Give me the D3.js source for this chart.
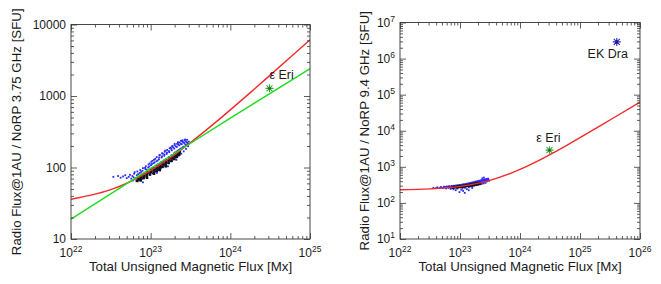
<!DOCTYPE html>
<html><head><meta charset="utf-8">
<script src="https://cdn.jsdelivr.net/npm/d3@7"></script>
<style>
body{margin:0;background:#fff}
svg{display:block}
text{font-family:"Liberation Sans",Arial,Helvetica,sans-serif;fill:#1a1a1a}
</style>
</head><body><svg id="c" width="661" height="284"></svg>
<script>
// ---------- data ----------
const leftXTicks = [1e22, 1e23, 1e24, 1e25];
const leftXLabels = ["22", "23", "24", "25"];
const leftYTicks = [10, 100, 1000, 10000];
const leftYLabels = ["10", "100", "1000", "10000"];
const rightXTicks = [1e22, 1e23, 1e24, 1e25, 1e26];
const rightXLabels = ["22", "23", "24", "25", "26"];
const rightYTicks = [1e1, 1e2, 1e3, 1e4, 1e5, 1e6, 1e7];
const rightYLabels = ["1", "2", "3", "4", "5", "6", "7"];

// fit curves [Mx, SFU]
const leftRed = [[1e22,36],[1.78e22,41],[3.16e22,49],[5.62e22,64],[1e23,91],[1.78e23,138],[3.16e23,223],[5.62e23,373],[1e24,640],[1.78e24,1115],[3.16e24,1960],[5.62e24,3460],[1e25,6130]];
const leftGreen = [[1e22,19],[1e23,97],[1e24,490],[1e25,2415]];
const rightRed = [[1e22,231],[3.16e22,245],[1e23,287],[3.16e23,421],[1e24,845],[1.78e24,1327],[3.16e24,2186],[5.62e24,3711],[1e25,6425],[3.16e25,19830],[1e26,62200]];

// observations (blue: all points, black: densest core)
const leftBlue = [[3.4e22,74],[3.9e22,76],[4.2e22,72],[4.5e22,75],[4.8e22,78],[5.0e22,71],[5.3e22,74],[5.5e22,79],[5.7e22,70],[5.9e22,76],
[6.0e22,66],[6.1e22,73],[6.2e22,82],[6.3e22,86],[6.5e22,71],[6.6e22,65],[6.7e22,78],[6.8e22,88],
[7.1e22,67],[7.2e22,74],[7.3e22,84],[7.4e22,92],[7.7e22,69],[7.8e22,80],[7.9e22,90],[8.0e22,98],
[8.3e22,71],[8.4e22,84],[8.6e22,95],[8.7e22,104],[9.0e22,74],[9.1e22,88],[9.3e22,100],[9.4e22,110],
[9.8e22,79],[9.9e22,94],[10.1e22,108],[10.2e22,120],[10.6e22,83],[10.7e22,99],[10.9e22,115],[11.0e22,128],
[11.5e22,87],[11.6e22,106],[11.8e22,122],[11.9e22,140],[12.4e22,92],[12.5e22,112],[12.7e22,130],[12.9e22,148],
[13.4e22,97],[13.5e22,118],[13.7e22,138],[13.9e22,158],[14.4e22,102],[14.6e22,125],[14.8e22,146],[15.0e22,166],
[15.5e22,108],[15.7e22,132],[15.9e22,155],[16.1e22,176],[16.7e22,115],[16.9e22,140],[17.1e22,164],[17.3e22,186],
[18.0e22,122],[18.2e22,148],[18.4e22,174],[18.6e22,196],[19.4e22,130],[19.6e22,157],[19.8e22,184],[20.0e22,206],
[20.9e22,138],[21.1e22,166],[21.3e22,194],[21.5e22,214],[22.5e22,146],[22.7e22,176],[22.9e22,204],[23.1e22,224],
[24.2e22,156],[24.4e22,186],[24.6e22,212],[24.8e22,232],[26.0e22,168],[26.2e22,196],[26.4e22,220],[26.6e22,240],
[27.8e22,182],[28.1e22,206],[28.4e22,226],[28.6e22,244],[29.5e22,198],[29.8e22,214],[30.1e22,230],
[8.0e22,62],[12.0e22,84],[16.5e22,104],[21.0e22,128],[25.0e22,240],[27.0e22,246],[20.0e22,215],[10.5e22,124],[13.0e22,150],[15.2e22,172],[18.8e22,200],[22.0e22,226],
[7.0e22,81],[7.6e22,87],[8.1e22,77],[8.9e22,93],[9.6e22,103],[9.5e22,86],[10.4e22,112],[10.3e22,96],[11.2e22,118],[11.3e22,93],[12.2e22,125],[12.0e22,101],[12.8e22,138],[13.2e22,109],[13.9e22,143],[14.1e22,113],[14.9e22,152],[15.3e22,121],[16.0e22,162],[16.4e22,128],[17.0e22,170],[17.6e22,136],[18.1e22,182],[18.9e22,150],[19.2e22,190],[20.3e22,162],[20.6e22,198],[21.8e22,172],[22.2e22,208],[23.5e22,182],[23.8e22,214],[25.3e22,192],[25.6e22,226],[27.2e22,210],[27.5e22,232],[29.0e22,220],[8.5e22,99],[9.7e22,114],[11.4e22,132],[14.2e22,156],[17.8e22,190],[21.9e22,219],[24.0e22,236]];
const leftBlack = [[6.8e22,65],[6.9e22,69],[7.0e22,72],[7.4e22,68],[7.5e22,72],[7.6e22,76],[7.5e22,66],
[8.1e22,71],[8.2e22,76],[8.3e22,80],[8.9e22,75],[9.0e22,80],[9.1e22,85],[9.0e22,72],
[9.8e22,80],[10.0e22,86],[10.2e22,91],[10.9e22,85],[11.0e22,91],[11.2e22,97],[11.0e22,82],
[11.9e22,90],[12.1e22,97],[12.2e22,103],[12.9e22,95],[13.1e22,102],[13.2e22,109],[13.0e22,92],
[14.0e22,102],[14.2e22,110],[14.4e22,117],[15.3e22,108],[15.5e22,116],[15.7e22,124],[15.5e22,104],
[16.8e22,116],[17.0e22,125],[17.2e22,134],[18.3e22,124],[18.5e22,134],[18.7e22,143],
[19.8e22,132],[20.0e22,142],[20.2e22,152],[21.3e22,141],[21.5e22,151],[21.7e22,161],[22.8e22,151],[23.0e22,160],[23.2e22,168]];
const rightBlue = [[3.6e22,262],[4.0e22,258],[4.2e22,270],[4.6e22,262],[4.8e22,276],[5.2e22,258],[5.4e22,282],[5.6e22,268],[5.9e22,252],[6.0e22,286],[6.2e22,272],[6.5e22,260],[6.6e22,292],[6.8e22,276],[7.0e22,245],[7.2e22,296],[7.3e22,280],[7.5e22,262],[7.8e22,238],[7.9e22,300],[8.0e22,284],[8.2e22,268],[8.5e22,225],[8.6e22,305],[8.7e22,288],[8.9e22,272],[9.1e22,250],[9.3e22,310],[9.4e22,292],[9.6e22,276],[9.8e22,200],[10.0e22,316],[10.1e22,296],[10.3e22,280],[10.5e22,232],[10.8e22,322],[10.9e22,302],[11.1e22,284],[11.3e22,215],[11.6e22,330],[11.7e22,308],[11.9e22,290],[12.1e22,262],[12.5e22,338],[12.6e22,314],[12.8e22,296],[13.0e22,240],[13.4e22,346],[13.6e22,320],[13.8e22,302],[14.0e22,270],[14.4e22,356],[14.6e22,328],[14.8e22,308],[15.0e22,285],[15.5e22,366],[15.7e22,336],[15.9e22,316],[16.1e22,292],[16.7e22,378],[16.9e22,346],[17.1e22,324],[17.3e22,300],[18.0e22,390],[18.2e22,356],[18.4e22,332],[18.6e22,310],[19.4e22,402],[19.6e22,366],[19.8e22,342],[20.0e22,318],[20.9e22,414],[21.1e22,378],[21.3e22,352],[21.5e22,328],[22.5e22,428],[22.7e22,390],[22.9e22,362],[23.1e22,338],[24.2e22,440],[24.4e22,402],[24.6e22,372],[24.8e22,348],[26.0e22,452],[26.2e22,414],[26.4e22,384],[26.6e22,360],[27.8e22,462],[28.1e22,424],[28.4e22,396],[29.5e22,470],[29.8e22,436],[30.5e22,410],[12.0e22,190],[14.0e22,225],[11.0e22,250],[16.0e22,260],[25.0e22,505],[23.5e22,480],
[7.4e22,290],[8.4e22,296],[9.0e22,300],[9.9e22,306],[10.6e22,312],[11.4e22,318],[12.3e22,325],[13.1e22,333],[14.1e22,340],[15.2e22,350],[16.4e22,360],[17.6e22,368],[18.8e22,378],[20.2e22,390],[21.8e22,400],[23.4e22,414],[25.2e22,428],[27.0e22,440],[28.8e22,452],[6.4e22,282],[5.6e22,276],[4.9e22,268]];
const rightBlack = [[7.6e22,265],[7.8e22,272],[8.0e22,278],[8.8e22,270],[9.0e22,278],[9.2e22,285],[9.8e22,276],[10.0e22,284],[10.2e22,291],[11.0e22,282],[11.2e22,290],[11.4e22,298],[12.3e22,290],[12.5e22,298],[12.7e22,306],[13.8e22,298],[14.0e22,307],[14.2e22,316],[15.3e22,306],[15.5e22,316],[15.7e22,326],[16.8e22,315],[17.0e22,325],[17.2e22,335],[18.3e22,324],[18.5e22,334],[18.7e22,344],[19.8e22,332],[20.0e22,343],[20.2e22,353],[21.3e22,342],[21.5e22,352]];

// individual stars [Mx, SFU]
const leftStars = [{name:"ε Eri", x:3.1e24, y:1280, color:"#3aa53a"}];
const rightStars = [{name:"ε Eri", x:3.1e24, y:2900, color:"#3aa53a"},
                    {name:"EK Dra", x:4.1e25, y:2.9e6, color:"#2b2bc0"}];

const leftXTitle = "Total Unsigned Magnetic Flux [Mx]";
const leftYTitle = "Radio Flux@1AU / NoRP 3.75 GHz [SFU]";
const rightXTitle = "Total Unsigned Magnetic Flux [Mx]";
const rightYTitle = "Radio Flux@1AU / NoRP 9.4 GHz [SFU]";

// ---------- drawing ----------
const svg = d3.select("#c");
svg.append("rect").attr("width",661).attr("height",284).attr("fill","#fff");

function minorsFor(domain){
  const out=[];
  const a=Math.round(Math.log10(domain[0])), b=Math.round(Math.log10(domain[1]));
  for(let e=a;e<b;e++) for(let k=2;k<=9;k++) out.push(k*Math.pow(10,e));
  return out;
}

function drawPanel(cfg, id){
  const g = svg.append("g");
  const x = d3.scaleLog().domain(cfg.xDomain).range([cfg.left, cfg.right]);
  const y = d3.scaleLog().domain(cfg.yDomain).range([cfg.bottom, cfg.top]);
  const xMin = minorsFor(cfg.xDomain), yMin = minorsFor(cfg.yDomain);

  g.append("clipPath").attr("id","clip"+id).append("rect")
    .attr("x",cfg.left).attr("y",cfg.top).attr("width",cfg.right-cfg.left).attr("height",cfg.bottom-cfg.top);
  const plot = g.append("g").attr("clip-path",`url(#clip${id})`);

  // scatter
  plot.selectAll("rect.b").data(cfg.blue).join("rect").attr("class","b")
    .attr("x",d=>x(d[0])-0.9).attr("y",d=>y(d[1])-0.9).attr("width",1.8).attr("height",1.8).attr("fill","#2a2af2");
  plot.selectAll("rect.k").data(cfg.black).join("rect").attr("class","k")
    .attr("x",d=>x(d[0])-1.3).attr("y",d=>y(d[1])-1.3).attr("width",2.6).attr("height",2.6).attr("fill","#111");

  const line = d3.line().x(d=>x(d[0])).y(d=>y(d[1])).curve(d3.curveMonotoneX);
  cfg.lines.forEach(l=>{
    plot.append("path").datum(l.data).attr("d",line).attr("fill","none")
      .attr("stroke",l.color).attr("stroke-width",1.4);
  });

  // stars
  cfg.stars.forEach(s=>{
    const cx=x(s.x), cy=y(s.y), r=4, q=3;
    g.append("path").attr("d",`M${cx-r},${cy}H${cx+r}M${cx},${cy-r}V${cy+r}M${cx-q},${cy-q}L${cx+q},${cy+q}M${cx-q},${cy+q}L${cx+q},${cy-q}`)
      .attr("stroke",s.color).attr("stroke-width",1.1).attr("fill","none");
    g.append("circle").attr("cx",cx).attr("cy",cy).attr("r",1.3).attr("fill",d3.color(s.color).darker(1.2));
    g.append("text").attr("x",cx+s.dx).attr("y",cy+s.dy).attr("text-anchor",s.anchor)
      .attr("font-size",12.5).text(s.name);
  });

  // axes (ticks point inwards, mirrored on all four sides)
  const tc="#333";
  function ax(gen, tr, vals, size){
    const a = g.append("g").attr("transform",tr)
      .call(gen.tickValues(vals).tickSize(size).tickFormat(""));
    a.select(".domain").remove();
    a.selectAll("line").attr("stroke",tc).attr("stroke-width",0.8);
    a.selectAll("text").remove();
  }
  ax(d3.axisBottom(x), `translate(0,${cfg.bottom})`, cfg.xTicks, -6);
  ax(d3.axisBottom(x), `translate(0,${cfg.bottom})`, xMin, -3);
  ax(d3.axisTop(x), `translate(0,${cfg.top})`, cfg.xTicks, -6);
  ax(d3.axisTop(x), `translate(0,${cfg.top})`, xMin, -3);
  ax(d3.axisLeft(y), `translate(${cfg.left},0)`, cfg.yTicks, -6);
  ax(d3.axisLeft(y), `translate(${cfg.left},0)`, yMin, -3);
  ax(d3.axisRight(y), `translate(${cfg.right},0)`, cfg.yTicks, -6);
  ax(d3.axisRight(y), `translate(${cfg.right},0)`, yMin, -3);

  g.append("rect").attr("x",cfg.left).attr("y",cfg.top)
    .attr("width",cfg.right-cfg.left).attr("height",cfg.bottom-cfg.top)
    .attr("fill","none").attr("stroke",tc).attr("stroke-width",0.9);

  // tick labels
  cfg.xTicks.forEach((v,i)=>{
    const t=g.append("text").attr("x",x(v)).attr("y",cfg.bottom+17.5)
      .attr("text-anchor","middle").attr("font-size",12);
    t.append("tspan").text("10");
    t.append("tspan").attr("dy",-5).attr("font-size",8.5).text(cfg.xLabels[i]);
  });
  cfg.yTicks.forEach((v,i)=>{
    const t=g.append("text").attr("x",cfg.left-5).attr("y",y(v)+4.3)
      .attr("text-anchor","end").attr("font-size",12);
    if(cfg.yExp){
      t.append("tspan").text("10");
      t.append("tspan").attr("dy",-5).attr("font-size",8.5).text(cfg.yLabels[i]);
    } else t.text(cfg.yLabels[i]);
  });

  // titles
  g.append("text").attr("x",(cfg.left+cfg.right)/2).attr("y",270.5)
    .attr("text-anchor","middle").attr("font-size",13.3).text(cfg.xTitle);
  g.append("text").attr("transform",`translate(${cfg.yTitleX},${(cfg.top+cfg.bottom)/2}) rotate(-90)`)
    .attr("text-anchor","middle").attr("font-size",13.3).text(cfg.yTitle);
}

drawPanel({
  left:71, right:310, top:24.5, bottom:239,
  xDomain:[1e22,1e25], yDomain:[10,1e4],
  xTicks:leftXTicks, xLabels:leftXLabels, yTicks:leftYTicks, yLabels:leftYLabels, yExp:false,
  blue:leftBlue, black:leftBlack,
  lines:[{data:leftRed,color:"#f22a2a"},{data:leftGreen,color:"#1fdc1f"}],
  stars:leftStars.map(s=>Object.assign({dx:0,dy:-9.5,anchor:"start"},s)),
  xTitle:leftXTitle, yTitle:leftYTitle, yTitleX:20.5
},1);

drawPanel({
  left:400, right:640, top:22.5, bottom:239,
  xDomain:[1e22,1e26], yDomain:[10,1e7],
  xTicks:rightXTicks, xLabels:rightXLabels, yTicks:rightYTicks, yLabels:rightYLabels, yExp:true,
  blue:rightBlue, black:rightBlack,
  lines:[{data:rightRed,color:"#f22a2a"}],
  stars:rightStars.map(s=>Object.assign(s.name==="EK Dra"?{dx:-9,dy:16,anchor:"middle"}:{dx:-1,dy:-8.5,anchor:"middle"},s)),
  xTitle:rightXTitle, yTitle:rightYTitle, yTitleX:369
},2);
</script>
</body></html>
